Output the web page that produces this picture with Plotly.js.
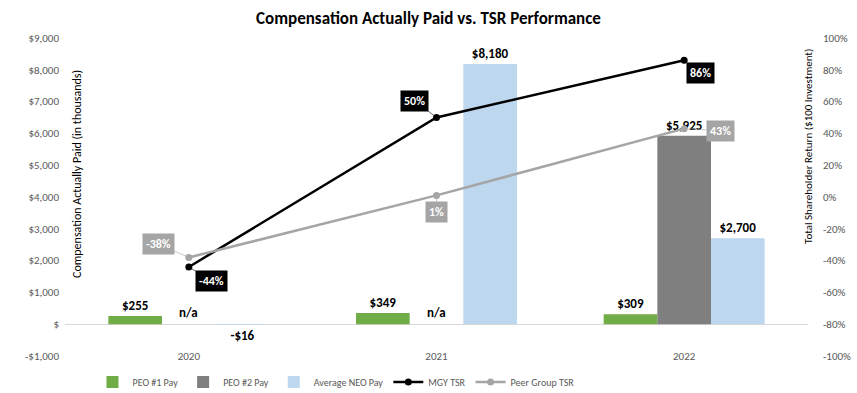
<!DOCTYPE html>
<html>
<head>
<meta charset="utf-8">
<script src="https://cdn.plot.ly/plotly-3.0.1.min.js"></script>
<style>
  html, body { margin: 0; padding: 0; background: #fff; }
  #chart { width: 857px; height: 393px; outline: 1px solid #d9d9d9; outline-offset: -1px; }
</style>
</head>
<body>
<div id="chart"></div>
<script>
// ---- data ----
const years = ['2020', '2021', '2022'];
const peo1Pay = [255, 349, 309];
const peo2Pay = [null, null, 5925];
const neoPay = [-16, 8180, 2700];
const mgyTsr = [-44, 50, 86];
const peerTsr = [-38, 1, 43];
const payTickVals = [-1000, 0, 1000, 2000, 3000, 4000, 5000, 6000, 7000, 8000, 9000];
const payTickText = ['-$1,000', '$', '$1,000', '$2,000', '$3,000', '$4,000', '$5,000', '$6,000', '$7,000', '$8,000', '$9,000'];
const tsrTickVals = [-100, -80, -60, -40, -20, 0, 20, 40, 60, 80, 100];

// ---- styles ----
const FONT = 'Carlito, Calibri, Lato, sans-serif';
const fmtPay = v => (v < 0 ? '-$' : '$') + Math.abs(v).toLocaleString('en-US');
const mgyOffsets = [[23, 14], [-22, -17], [16, 13]];
const peerOffsets = [[-30, -13], [0, 17], [36, 2]];

const barCommon = {
  type: 'bar', x: years, textposition: 'outside', cliponaxis: false,
  constraintext: 'none', hoverinfo: 'skip',
  outsidetextfont: { family: FONT, size: 13, color: '#000', weight: 'bold' }
};

const traces = [
  Object.assign({}, barCommon, { name: 'PEO #1 Pay', y: peo1Pay, marker: { color: '#70ad47' },
    text: peo1Pay.map(v => v == null ? '' : fmtPay(v)) }),
  Object.assign({}, barCommon, { name: 'PEO #2 Pay', y: peo2Pay, marker: { color: '#7f7f7f' },
    text: peo2Pay.map(v => v == null ? '' : fmtPay(v)) }),
  Object.assign({}, barCommon, { name: 'Average NEO Pay', y: neoPay, marker: { color: '#bdd7ee' },
    text: neoPay.map(v => v == null ? '' : fmtPay(v)) }),
  { type: 'scatter', mode: 'lines+markers', name: 'MGY TSR', x: years, y: mgyTsr, yaxis: 'y2',
    line: { color: '#000000', width: 2.5 }, marker: { color: '#000000', size: 7 }, hoverinfo: 'skip' },
  { type: 'scatter', mode: 'lines+markers', name: 'Peer Group TSR', x: years, y: peerTsr, yaxis: 'y2',
    line: { color: '#a5a5a5', width: 2.5 }, marker: { color: '#a5a5a5', size: 7 }, hoverinfo: 'skip' }
];

const annotations = [];
// n/a labels for missing PEO #2 values (x given as category index)
peo2Pay.forEach((v, i) => {
  if (v == null) annotations.push({ x: i, y: 0, xref: 'x', yref: 'y', text: 'n/a', showarrow: false,
    yshift: 12, font: { family: FONT, size: 13, color: '#000', weight: 'bold' } });
});
function tsrLabels(vals, offs, bg) {
  vals.forEach((v, i) => annotations.push({
    x: i, y: v, xref: 'x', yref: 'y2', text: v + '%', showarrow: true,
    ax: offs[i][0], ay: offs[i][1], arrowhead: 0, arrowwidth: 0.6, arrowcolor: bg, standoff: 0,
    bgcolor: bg, borderpad: 3, font: { family: FONT, size: 12, color: '#fff', weight: 'bold' }
  }));
}
tsrLabels(mgyTsr, mgyOffsets, '#000000');
tsrLabels(peerTsr, peerOffsets, '#a5a5a5');
// axis titles
annotations.push({ xref: 'paper', yref: 'paper', x: (77 - 65) / 743, y: (356 - 174) / 318, xanchor: 'center', yanchor: 'middle',
  text: 'Compensation Actually Paid (in thousands)',
  textangle: -90, showarrow: false, font: { family: FONT, size: 12, color: '#000' } });
annotations.push({ xref: 'paper', yref: 'paper', x: (808 - 65) / 743, y: (356 - 147) / 318, xanchor: 'center', yanchor: 'middle',
  text: 'Total Shareholder Return ($100 Investment)',
  textangle: -90, showarrow: false, font: { family: FONT, size: 11, color: '#000' } });

const layout = {
  width: 857, height: 393,
  margin: { l: 65, r: 49, t: 38, b: 37, autoexpand: false },
  paper_bgcolor: '#fff', plot_bgcolor: '#fff',
  font: { family: FONT, color: '#595959' },
  title: { text: 'Compensation Actually Paid vs. TSR Performance', x: 0.5, xanchor: 'center', y: 0.955, yanchor: 'middle',
    font: { family: FONT, size: 17, color: '#000', weight: 'bold' } },
  barmode: 'group', bargap: 0.35, bargroupgap: 0,
  xaxis: { type: 'category', range: [-0.5, 2.5], autorange: false, showgrid: false, showline: false, ticks: '', ticklabelstandoff: -8,
    tickfont: { family: FONT, size: 11, color: '#595959' }, fixedrange: true },
  yaxis: { range: [-1000, 9000], autorange: false, tickvals: payTickVals, ticktext: payTickText, showgrid: false,
    zeroline: true, zerolinecolor: '#d9d9d9', zerolinewidth: 1, ticks: '', ticklabelstandoff: 5,
    tickfont: { family: FONT, size: 11, color: '#595959' }, fixedrange: true },
  yaxis2: { overlaying: 'y', side: 'right', range: [-100, 100], autorange: false, tickvals: tsrTickVals,
    ticktext: tsrTickVals.map(v => v + '%'), showgrid: false, zeroline: false, ticks: '', ticklabelstandoff: 14,
    tickfont: { family: FONT, size: 11, color: '#595959' }, fixedrange: true },
  showlegend: true,
  legend: { orientation: 'h', x: 0.037, xanchor: 'left', y: -0.082, yanchor: 'middle',
    traceorder: 'normal',
    font: { family: FONT, size: 10, color: '#595959' }, bgcolor: 'rgba(0,0,0,0)' },
  annotations: annotations
};

Plotly.newPlot('chart', traces, layout, { displayModeBar: false, staticPlot: true });
</script>
</body>
</html>
